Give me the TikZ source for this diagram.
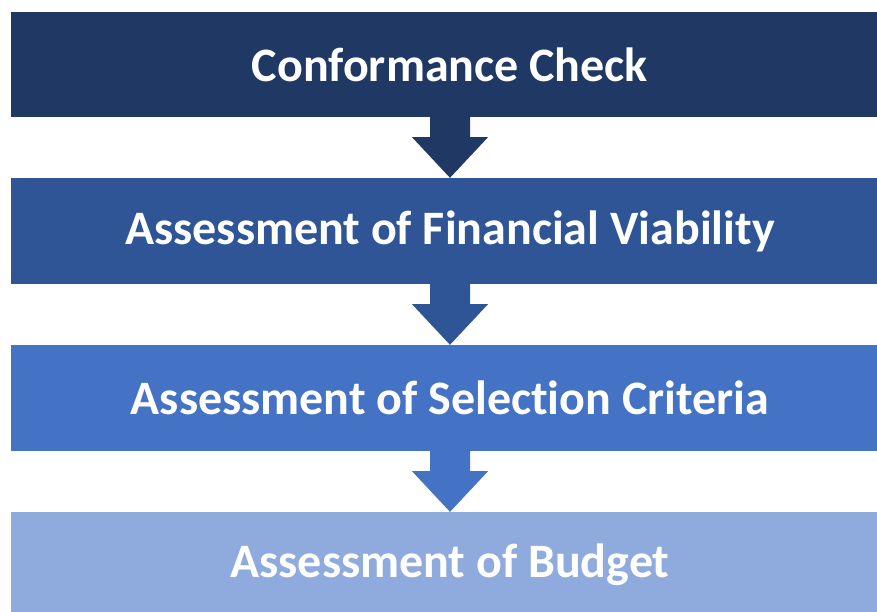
\documentclass[tikz,border=0pt]{standalone}
\usepackage{fontspec}
\setmainfont{Carlito}[Ligatures=NoCommon]
\usetikzlibrary{calc}
\definecolor{cA}{HTML}{203864}
\definecolor{cB}{HTML}{2F5597}
\definecolor{cC}{HTML}{4472C4}
\definecolor{cD}{HTML}{8FAADC}
\tikzset{
  stagebox/.style={minimum width=878pt, minimum height=106pt, inner sep=0pt, text=white,
    font=\fontsize{48}{56}\selectfont\bfseries},
}
\newcommand{\blockarrow}[3]{%
  \fill[#3] ($(#1.south)+(-20pt,0)$) -- ($(#1.south)+(20pt,0)$) -- ($(#1.south)+(20pt,-20pt)$)
    -- ($(#1.south)+(38pt,-20pt)$) -- (#2.north) -- ($(#1.south)+(-38pt,-20pt)$)
    -- ($(#1.south)+(-20pt,-20pt)$) -- cycle;}
\begin{document}
\begin{tikzpicture}[x=1pt,y=-1pt]
\clip (0,0) rectangle (877,611);
\fill[white] (0,0) rectangle (877,611);
\node[stagebox, fill=cA, minimum height=105pt] (b1) at (450,64.5) {Conformance Check};
\node[stagebox, fill=cB] (b2) at (450,231) {Assessment of Financial Viability};
\node[stagebox, fill=cC] (b3) at (450,398) {Assessment of Selection Criteria};
\node[stagebox, fill=cD] (b4) at (450,565) {Assessment of Budget};
\blockarrow{b1}{b2}{cA}
\blockarrow{b2}{b3}{cB}
\blockarrow{b3}{b4}{cC}
\end{tikzpicture}
\end{document}
